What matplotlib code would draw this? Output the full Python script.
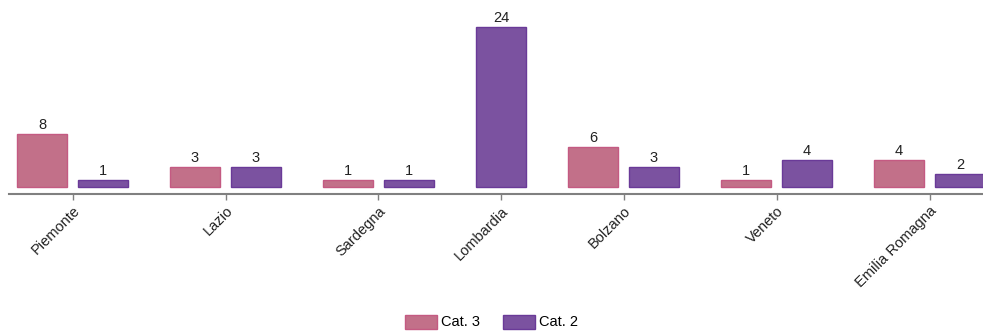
import matplotlib
matplotlib.use("Agg")
import matplotlib.pyplot as plt
from matplotlib.patches import Patch

plt.rcParams["font.family"] = ["Liberation Sans", "DejaVu Sans"]

# regions and values (None = no bar for that series)
regions = ["Piemonte", "Lazio", "Sardegna", "Lombardia", "Bolzano", "Veneto", "Emilia Romagna"]
cat3 = [8, 3, 1, None, 6, 1, 4]
cat2 = [1, 3, 1, 24, 3, 4, 2]
series_names = ["Cat. 3", "Cat. 2"]

fill_colors = ["#c27089", "#7b52a0"]
edge_colors = ["#c45a82", "#6a3a98"]

bar_w = 1.0
inner_gap = 0.22
group_gap = 0.84

fig = plt.figure(figsize=(9.83, 3.31), dpi=100)
ax = fig.add_axes([9 / 983, (331 - 194) / 331, 974 / 983, 194 / 331])

cursor = 0.0
tick_pos = []
for i, name in enumerate(regions):
    start = cursor
    for s, values in enumerate([cat3, cat2]):
        v = values[i]
        if v is None:
            continue
        ax.bar(cursor, v, width=bar_w, align="edge", color=fill_colors[s],
               edgecolor=edge_colors[s], linewidth=1)
        ax.text(cursor + bar_w / 2, v + 0.3, str(v), ha="center", va="bottom",
                fontsize=10.5, color="#222222")
        cursor += bar_w + inner_gap
    cursor -= inner_gap
    tick_pos.append((start + cursor) / 2)
    cursor += group_gap

ax.set_xlim(-0.16, 19.32)
ax.set_ylim(-1.05, 28.0)

for side in ["left", "right", "top"]:
    ax.spines[side].set_visible(False)
ax.spines["bottom"].set_color("#808080")
ax.spines["bottom"].set_linewidth(1.5)

ax.set_yticks([])
ax.set_xticks(tick_pos)
ax.set_xticklabels(regions, rotation=45, ha="right", rotation_mode="anchor",
                   fontsize=10.5, color="#222222")
ax.tick_params(axis="x", length=4, width=1, color="#808080", pad=3)

handles = [Patch(facecolor=fill_colors[k], edgecolor=edge_colors[k], label=series_names[k])
           for k in range(2)]
fig.legend(handles=handles, loc="center", bbox_to_anchor=(0.5, 9 / 331), ncol=2,
           frameon=False, fontsize=10.5, handlelength=2.2, handleheight=1.1,
           handletextpad=0.25, columnspacing=1.6)

fig.savefig("out.png", dpi=100)
